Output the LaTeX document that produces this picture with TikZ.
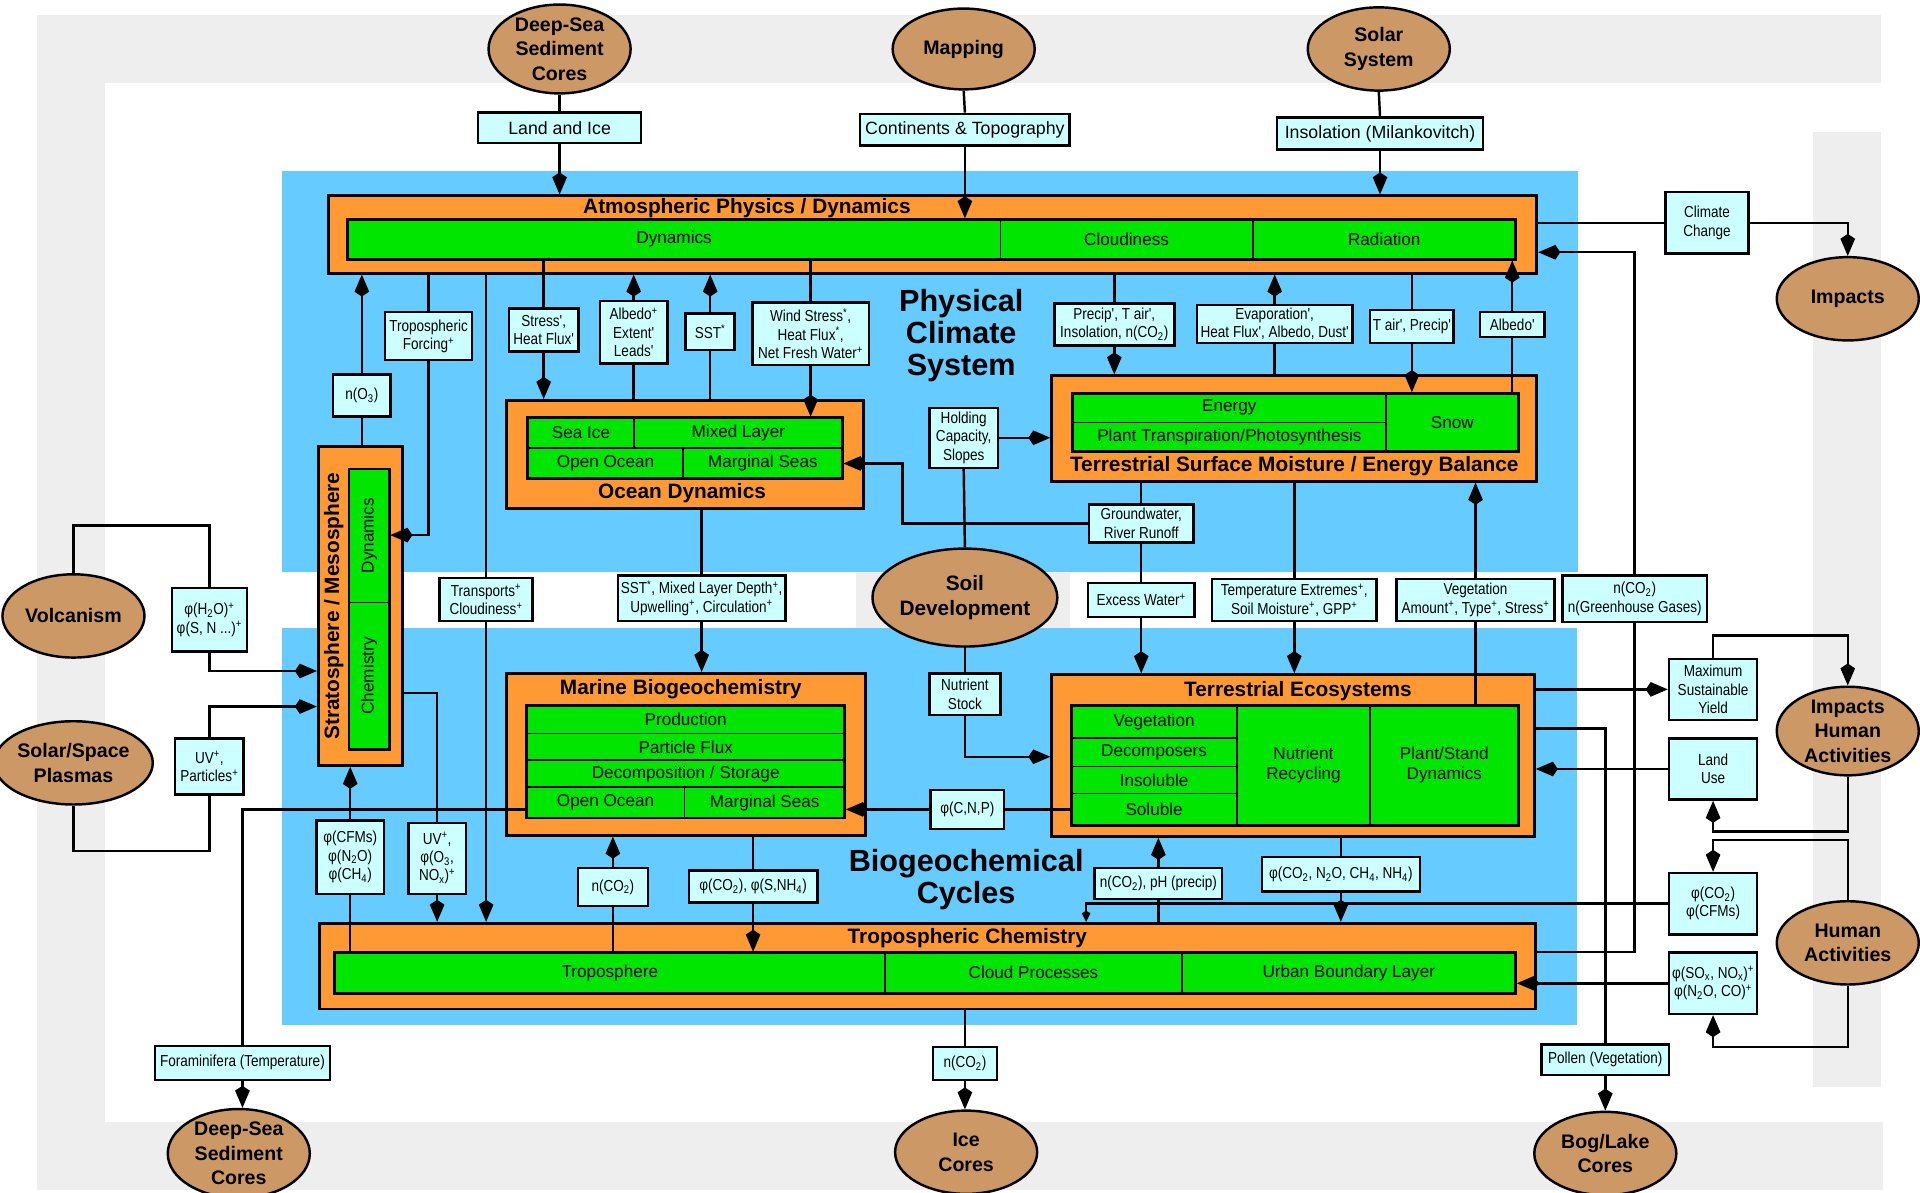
\documentclass[tikz,border=0pt]{standalone}
\usepackage{fontspec}
\setmainfont{Liberation Sans}
\newfontfamily\condf[FakeStretch=0.85]{Liberation Sans}
\usetikzlibrary{arrows.meta,shapes.geometric,fit}
\newcommand\supx[1]{\textsuperscript{#1}}
\newcommand\subx[1]{\textsubscript{#1}}
\newcommand\mkbox[4]{\node[#1, fit={#3 #4}] (#2) {};}
\pgfdeclarelayer{bg}
\pgfdeclarelayer{boxes}
\pgfdeclarelayer{lines}
\pgfsetlayers{bg,boxes,lines,main}
\definecolor{bgray}{HTML}{EEEEEE}
\definecolor{skyb}{HTML}{66CCFF}
\definecolor{orng}{HTML}{FF9933}
\definecolor{grn}{HTML}{00E600}
\definecolor{cyn}{HTML}{CCFFFF}
\definecolor{brwn}{HTML}{CC9966}
\tikzset{
 ob/.style={draw, line width=2.4pt, fill=orng, inner sep=0pt},
 gc/.style={draw, line width=1.5pt, fill=grn, inner sep=0pt},
 gf/.style={draw, line width=2.4pt, inner sep=0pt},
 ttl/.style={font=\fontsize{17}{19}\selectfont\bfseries, inner sep=0pt},
 gt/.style={font=\fontsize{14}{16}\selectfont, inner sep=0pt, align=center},
 lab/.style={draw, line width=2pt, fill=cyn, inner sep=0pt, align=center, font=\condf\fontsize{13}{15}\selectfont},
 labt/.style={lab, font=\fontsize{14.5}{16}\selectfont},
 ell/.style={ellipse, draw, line width=2pt, fill=brwn, inner sep=0pt, align=center, minimum width=116pt, minimum height=68pt, font=\fontsize{16}{20}\selectfont\bfseries},
 big/.style={font=\fontsize{25}{26}\selectfont\bfseries, align=center, inner sep=0pt},
 con/.style={line width=2pt},
 arr/.style={con, -{Kite[length=18pt,width=12pt,inset=4pt]}},
 sarr/.style={con, -{Kite[length=9pt,width=7pt,inset=2pt]}},
}
\begin{document}
\begin{tikzpicture}[x=1pt,y=-1pt]
\useasboundingbox (0,0) rectangle (1568,974);
\begin{pgfonlayer}{bg}
\fill[white] (0,0) rectangle (1568,974);
\fill[bgray] (30,12) rectangle (1536,68);
\fill[bgray] (30,12) rectangle (86,970);
\fill[bgray] (30,916) rectangle (1538,972);
\fill[bgray] (1481,108) rectangle (1536,888);
\fill[skyb] (230,140) rectangle (1289,467);
\fill[skyb] (230,513) rectangle (1288,837);
\fill[bgray] (699,468) rectangle (874,513);
\end{pgfonlayer}

\begin{pgfonlayer}{boxes}
% Atmospheric physics
\mkbox{ob}{atm}{(268,160)}{(1255,223)}
\mkbox{gc}{atmdyn}{(284,179)}{(817,212)}
\mkbox{gc}{atmcl}{(817,179)}{(1023,212)}
\mkbox{gc}{atmrad}{(1023,179)}{(1238,212)}
\mkbox{gf}{atmg}{(284,179)}{(1238,212)}
\node[ttl] (atmT) at (610,170) {Atmospheric Physics / Dynamics};
\node[gt] (atmdynT) at (atmdyn) {Dynamics};
\node[gt] (atmclT) at (atmcl) {Cloudiness};
\node[gt] (atmradT) at (atmrad) {Radiation};
% Ocean dynamics
\mkbox{ob}{od}{(414,327)}{(705,415)}
\mkbox{gc}{odice}{(431,341)}{(518,366)}
\mkbox{gc}{odmix}{(518,341)}{(688,366)}
\mkbox{gc}{odopen}{(431,366)}{(558,391)}
\mkbox{gc}{odmarg}{(558,366)}{(688,391)}
\mkbox{gf}{odg}{(431,341)}{(688,391)}
\node[gt] (odiceT) at (odice) {Sea Ice};
\node[gt] (odmixT) at (odmix) {Mixed Layer};
\node[gt] (odopenT) at (odopen) {Open Ocean};
\node[gt] (odmargT) at (odmarg) {Marginal Seas};
\node[ttl] (odT) at (557,403) {Ocean Dynamics};
% Terrestrial surface moisture
\mkbox{ob}{tsm}{(859,307)}{(1255,393)}
\mkbox{gc}{energy}{(876,321)}{(1132,345)}
\mkbox{gc}{plant}{(876,345)}{(1132,369)}
\mkbox{gc}{snow}{(1132,321)}{(1240,369)}
\mkbox{gf}{tsmg}{(876,321)}{(1240,369)}
\node[gt] (energyT) at (energy) {Energy};
\node[gt] (plantT) at (plant) {Plant Transpiration/Photosynthesis};
\node[gt] (snowT) at (snow) {Snow};
\node[ttl] (tsmT) at (1057,381) {Terrestrial Surface Moisture / Energy Balance};
% Stratosphere
\mkbox{ob}{strat}{(260,365)}{(329,625)}
\mkbox{gc}{sdyn}{(285,383)}{(318,492)}
\mkbox{gc}{schem}{(285,492)}{(318,612)}
\mkbox{gf}{stratg}{(285,383)}{(318,612)}
\node[gt, rotate=90] (sdynT) at (sdyn) {Dynamics};
\node[gt, rotate=90] (schemT) at (schem) {Chemistry};
\node[ttl, rotate=90] (stT) at (272.5,495) {Stratosphere / Mesosphere};
% Marine
\mkbox{ob}{marine}{(414,550)}{(707,682)}
\mkbox{gc}{mprod}{(430,576)}{(690,599)}
\mkbox{gc}{mflux}{(430,599)}{(690,621)}
\mkbox{gc}{mdec}{(430,621)}{(690,643)}
\mkbox{gc}{mopen}{(430,643)}{(559,668)}
\mkbox{gc}{mmarg}{(559,643)}{(690,668)}
\mkbox{gf}{marg}{(430,576)}{(690,668)}
\node[gt] (mprodT) at (mprod) {Production};
\node[gt] (mfluxT) at (mflux) {Particle Flux};
\node[gt] (mdecT) at (mdec) {Decomposition / Storage};
\node[gt] (mopenT) at (mopen) {Open Ocean};
\node[gt] (mmargT) at (mmarg) {Marginal Seas};
\node[ttl] (marT) at (556,563) {Marine Biogeochemistry};
% Terrestrial ecosystems
\mkbox{ob}{te}{(859,551)}{(1253,683)}
\mkbox{gc}{tveg}{(875,576)}{(1010,603)}
\mkbox{gc}{tdec}{(875,603)}{(1010,626)}
\mkbox{gc}{tins}{(875,626)}{(1010,648)}
\mkbox{gc}{tsol}{(875,648)}{(1010,674)}
\mkbox{gc}{tnut}{(1010,576)}{(1119,674)}
\mkbox{gc}{tpla}{(1119,576)}{(1240,674)}
\mkbox{gf}{teg}{(875,576)}{(1240,674)}
\node[gt] (tvegT) at (tveg) {Vegetation};
\node[gt] (tdecT) at (tdec) {Decomposers};
\node[gt] (tinsT) at (tins) {Insoluble};
\node[gt] (tsolT) at (tsol) {Soluble};
\node[gt] (tnutT) at (tnut) {Nutrient\\Recycling};
\node[gt] (tplaT) at (tpla) {Plant/Stand\\Dynamics};
\node[ttl] (teT) at (1060,564) {Terrestrial Ecosystems};
% Tropospheric chemistry
\mkbox{ob}{trop}{(261,754)}{(1254,824)}
\mkbox{gc}{tropo}{(273,778)}{(723,811)}
\mkbox{gc}{cloudp}{(723,778)}{(965,811)}
\mkbox{gc}{urban}{(965,778)}{(1238,811)}
\mkbox{gf}{tropg}{(273,778)}{(1238,811)}
\node[gt] (tropoT) at (tropo) {Troposphere};
\node[gt] (cloudpT) at (cloudp) {Cloud Processes};
\node[gt] (urbanT) at (urban) {Urban Boundary Layer};
\node[ttl] (trT) at (790,766) {Tropospheric Chemistry};
\end{pgfonlayer}

% big titles
\node[big] (physT) at (785,274) {Physical\\Climate\\System};
\node[big] (bioT) at (789,718) {Biogeochemical\\Cycles};

% ellipses
\node[ell] (dsT) at (457,40) {Deep-Sea\\Sediment\\Cores};
\node[ell, minimum height=66pt] (map) at (787,40) {Mapping};
\node[ell] (solar) at (1126,40) {Solar\\System};
\node[ell] (impacts) at (1509,244) {Impacts};
\node[ell] (volc) at (60,503) {Volcanism};
\node[ell] (plasma) at (60,623) {Solar/Space\\Plasmas};
\node[ell, minimum width=144pt, minimum height=80pt, font=\fontsize{17}{21}\selectfont\bfseries] (soil) at (788,488) {Soil\\Development};
\node[ell] (iha) at (1509,597) {Impacts\\Human\\Activities};
\node[ell] (ha) at (1509,770) {Human\\Activities};
\node[ell] (dsB) at (195,942) {Deep-Sea\\Sediment\\Cores};
\node[ell] (ice) at (789,941) {Ice\\Cores};
\node[ell] (bog) at (1311,942) {Bog/Lake\\Cores};

% labels
\node[labt, minimum width=133pt, minimum height=25pt] (land) at (457,104.5) {Land and Ice};
\node[labt, minimum width=171pt, minimum height=26pt] (cont) at (788,106) {Continents \& Topography};
\node[labt, minimum width=168pt, minimum height=26pt] (insol) at (1127,109) {Insolation (Milankovitch)};
\node[lab, minimum width=68pt, minimum height=50pt] (climch) at (1394,182) {Climate\\Change};
\node[lab, minimum width=71pt, minimum height=39pt] (tropf) at (350,274.5) {Tropospheric\\Forcing\supx{+}};
\node[lab, minimum width=57pt, minimum height=35pt] (stress) at (444,269.5) {Stress',\\Heat Flux'};
\node[lab, minimum width=55pt, minimum height=51pt] (albedo) at (517.5,271.5) {Albedo\supx{+}\\Extent'\\Leads'};
\node[lab, minimum width=40pt, minimum height=30pt] (sst) at (580,271) {SST\supx{*}};
\node[lab, minimum width=95pt, minimum height=51pt] (wind) at (662,272.5) {Wind Stress\supx{*},\\Heat Flux\supx{*},\\Net Fresh Water\supx{+}};
\node[lab, minimum width=47pt, minimum height=34pt] (no3) at (295.5,323) {n(O\subx{3})};
\node[lab, minimum width=98pt, minimum height=34pt] (precip) at (910,265) {Precip', T air',\\Insolation, n(CO\subx{2})};
\node[lab, minimum width=127pt, minimum height=31pt] (evap) at (1041,264.5) {Evaporation',\\Heat Flux', Albedo, Dust'};
\node[lab, minimum width=68pt, minimum height=27pt] (tair) at (1153,266.5) {T air', Precip'};
\node[lab, minimum width=53pt, minimum height=20pt] (albp) at (1235,265) {Albedo'};
\node[lab, minimum width=56pt, minimum height=49pt] (hold) at (787,357.5) {Holding\\Capacity,\\Slopes};
\node[lab, minimum width=85pt, minimum height=31pt] (ground) at (932,427.5) {Groundwater,\\River Runoff};
\node[lab, minimum width=76pt, minimum height=35pt] (transp) at (397,489.5) {Transports\supx{+}\\Cloudiness\supx{+}};
\node[lab, minimum width=137pt, minimum height=37pt] (sstm) at (573,488.5) {SST\supx{*}, Mixed Layer Depth\supx{+},\\Upwelling\supx{+}, Circulation\supx{+}};
\node[lab, minimum width=87pt, minimum height=28pt] (excess) at (932,490) {Excess Water\supx{+}};
\node[lab, minimum width=134pt, minimum height=34pt] (tempx) at (1057,490) {Temperature Extremes\supx{+},\\Soil Moisture\supx{+}, GPP\supx{+}};
\node[lab, minimum width=129pt, minimum height=34pt] (veg) at (1205,490) {Vegetation\\Amount\supx{+}, Type\supx{+}, Stress\supx{+}};
\node[lab, minimum width=118pt, minimum height=38pt] (ghg) at (1335,489) {n(CO\subx{2})\\n(Greenhouse Gases)};
\node[lab, minimum width=61pt, minimum height=52pt] (h2o) at (171,506) {φ(H\subx{2}O)\supx{+}\\φ(S, N ...)\supx{+}};
\node[lab, minimum width=56pt, minimum height=46pt] (uv) at (171,626) {UV\supx{+},\\Particles\supx{+}};
\node[lab, minimum width=72pt, minimum height=50pt] (msy) at (1399,563) {Maximum\\Sustainable\\Yield};
\node[lab, minimum width=72pt, minimum height=50pt] (landuse) at (1399,628) {Land\\Use};
\node[lab, minimum width=72pt, minimum height=50pt] (co2cfm) at (1399,738) {φ(CO\subx{2})\\φ(CFMs)};
\node[lab, minimum width=72pt, minimum height=50pt] (sox) at (1399,803) {φ(SO\subx{x}, NO\subx{x})\supx{+}\\φ(N\subx{2}O, CO)\supx{+}};
\node[lab, minimum width=104pt, minimum height=25pt] (pollen) at (1311,865.5) {Pollen (Vegetation)};
\node[lab, minimum width=58pt, minimum height=34pt] (nstock) at (788,567) {Nutrient\\Stock};
\node[lab, minimum width=60pt, minimum height=32pt] (cnp) at (790,661) {φ(C,N,P)};
\node[lab, minimum width=57pt, minimum height=31pt] (nco2m) at (500.5,724.5) {n(CO\subx{2})};
\node[lab, minimum width=105pt, minimum height=26pt] (co2s) at (615,724) {φ(CO\subx{2}), φ(S,NH\subx{4})};
\node[lab, minimum width=104pt, minimum height=25pt] (nco2ph) at (946,721.5) {n(CO\subx{2}), pH (precip)};
\node[lab, minimum width=129pt, minimum height=28pt] (co2n2o) at (1095,714) {φ(CO\subx{2}, N\subx{2}O, CH\subx{4}, NH\subx{4})};
\node[lab, minimum width=55pt, minimum height=60pt] (cfms) at (286,700) {φ(CFMs)\\φ(N\subx{2}O)\\φ(CH\subx{4})};
\node[lab, minimum width=47pt, minimum height=58pt] (uvo3) at (357,701) {UV\supx{+},\\φ(O\subx{3},\\NO\subx{x})\supx{+}};
\node[lab, minimum width=143pt, minimum height=28pt] (foram) at (198,868) {Foraminifera (Temperature)};
\node[lab, minimum width=52pt, minimum height=27pt] (nco2i) at (788,868.5) {n(CO\subx{2})};

\begin{pgfonlayer}{lines}
% top inputs
\draw[con] (dsT.south) -- (land.north);
\draw[arr] (land.south) -- (land.south |- atm.north);
\draw[con] (map.south) -- (cont.north);
\draw[arr] (cont.south) -- (cont.south |- atmdyn.north);
\draw[con] (solar.south) -- (insol.north);
\draw[arr] (insol.south) -- (insol.south |- atm.north);
% climate change / impacts
\draw[con] (climch.west -| atm.east) -- (climch.west);
\draw[arr] (climch.east) -| (impacts.north);
% greenhouse gases
\draw[con] (urban.north -| trop.east) -| (ghg.south);
\draw[arr] (ghg.north) |- (atm.east |- 0,206);
% pollen
\draw[con] (te.east |- 0,595) -| (pollen.north);
\draw[arr] (pollen.south) -- (pollen.south |- bog.north);
% human activities
\draw[arr] (msy.west -| te.east) -- (msy.west);
\draw[arr] (msy.north) |- (iha.north |- 0,519) -- (iha.north);
\draw[arr] (iha.south) -- (iha.south |- 0,679) -| (landuse.south);
\draw[arr] (landuse.west) -- (landuse.west -| te.east);
\draw[arr] (ha.north) -- (ha.north |- 0,686) -| (co2cfm.north);
\draw[sarr] (co2cfm.west) -- (co2cfm.west -| 887,0) -- (887,0 |- trop.north);
\draw[arr] (ha.south) -- (ha.south |- 0,855) -| (sox.south);
\draw[arr] (sox.west) -- (sox.west -| urban.east);
% terrestrial ecosystems
\draw[con] (co2n2o.north |- te.south) -- (co2n2o.north);
\draw[arr] (co2n2o.south) -- (co2n2o.south |- trop.north);
\draw[con] (nco2ph.south |- trop.north) -- (nco2ph.south);
\draw[arr] (nco2ph.north) -- (nco2ph.north |- te.south);
\draw[con] (veg.south |- tpla.north) -- (veg.south);
\draw[arr] (veg.north) -- (veg.north |- tsm.south);
\draw[con] (tempx.north |- tsm.south) -- (tempx.north);
\draw[arr] (tempx.south) -- (tempx.south |- te.north);
\draw[con] (ground.north |- tsm.south) -- (ground.north);
\draw[con] (ground.south) -- (excess.north);
\draw[arr] (excess.south) -- (excess.south |- te.north);
\draw[arr] (ground.west) -- (ground.west -| 737,0) |- (odmarg.east);
\draw[arr] (hold.east) -- (hold.east -| tsm.west);
\draw[con] (soil.north) -- (hold.south);
\draw[con] (soil.south) -- (nstock.north);
\draw[arr] (nstock.south) |- (te.west |- 0,618);
\draw[con] (cnp.east -| tsol.west) -- (cnp.east);
\draw[arr] (cnp.west) -- (cnp.west -| mmarg.east);
% marine
\draw[con] (co2s.north |- marine.south) -- (co2s.north);
\draw[arr] (co2s.south) -- (co2s.south |- tropo.north);
\draw[con] (nco2m.south |- tropo.north) -- (nco2m.south);
\draw[arr] (nco2m.north) -- (nco2m.north |- marine.south);
\draw[con] (sstm.north |- od.south) -- (sstm.north);
\draw[arr] (sstm.south) -- (sstm.south |- marine.north);
% atmosphere - ocean
\draw[con] (stress.north |- atmdyn.south) -- (stress.north);
\draw[arr] (stress.south) -- (stress.south |- od.north);
\draw[con] (albedo.south |- od.north) -- (albedo.south);
\draw[arr] (albedo.north) -- (albedo.north |- atm.south);
\draw[con] (sst.south |- od.north) -- (sst.south);
\draw[arr] (sst.north) -- (sst.north |- atm.south);
\draw[con] (wind.north |- atmdyn.south) -- (wind.north);
\draw[arr] (wind.south) -- (wind.south |- odmix.north);
\draw[con] (tropf.north |- atm.south) -- (tropf.north);
\draw[arr] (tropf.south) |- (sdyn.east |- 0,437);
\draw[con] (transp.north |- atm.south) -- (transp.north);
\draw[arr] (transp.south) -- (transp.south |- trop.north);
\draw[con] (no3.south) -- (no3.south |- strat.north);
\draw[arr] (no3.north) -- (no3.north |- atm.south);
% atmosphere - land
\draw[con] (precip.north |- atm.south) -- (precip.north);
\draw[arr] (precip.south) -- (precip.south |- tsm.north);
\draw[con] (evap.south |- tsm.north) -- (evap.south);
\draw[arr] (evap.north) -- (evap.north |- atm.south);
\draw[con] (tair.north |- atm.south) -- (tair.north);
\draw[arr] (tair.south) -- (tair.south |- snow.north);
\draw[con] (albp.south |- snow.north) -- (albp.south);
\draw[arr] (albp.north) -- (albp.north |- atmrad.south);
% stratosphere
\draw[con] (volc.north) -- (volc.north |- 0,429) -| (h2o.north);
\draw[arr] (h2o.south) |- (strat.west |- 0,548);
\draw[con] (plasma.south) -- (plasma.south |- 0,695) -| (uv.south);
\draw[arr] (uv.north) |- (strat.west |- 0,577);
\draw[con] (cfms.south) -- (cfms.south |- tropo.north);
\draw[arr] (cfms.north) -- (cfms.north |- strat.south);
\draw[con] (strat.east |- 0,566) -| (uvo3.north);
\draw[arr] (uvo3.south) -- (uvo3.south |- trop.north);
% outputs
\draw[con] (mopen.west |- 0,661) -| (foram.north);
\draw[arr] (foram.south) -- (foram.south |- dsB.north);
\draw[con] (nco2i.north |- trop.south) -- (nco2i.north);
\draw[arr] (nco2i.south) -- (nco2i.south |- ice.north);
\end{pgfonlayer}
\end{tikzpicture}
\end{document}
